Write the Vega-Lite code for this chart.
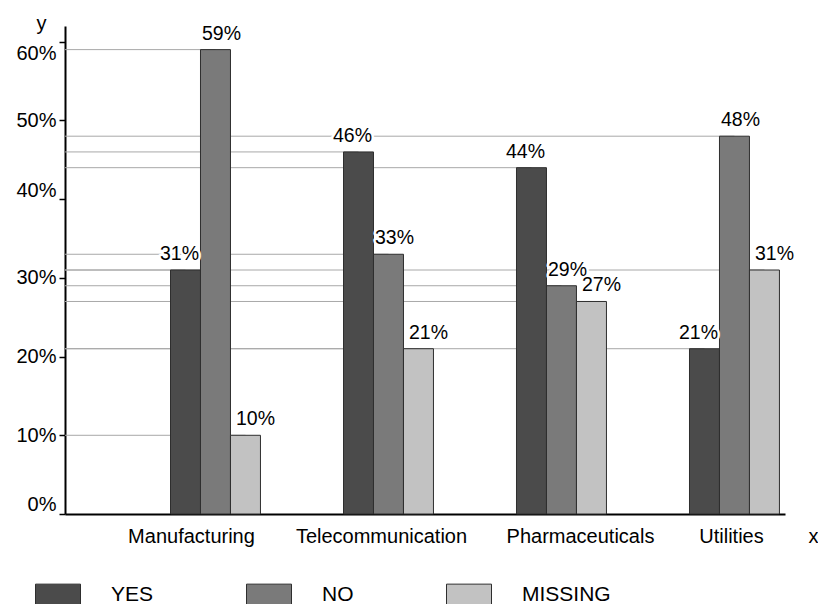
{
  "$schema": "https://vega.github.io/schema/vega-lite/v6.json",
  "width": 720,
  "height": 488,
  "autosize": {"type": "none"},
  "padding": {"left": 65, "top": 26, "right": 33, "bottom": 90},
  "background": "white",
  "config": {
    "view": {"stroke": null},
    "font": "Liberation Sans",
    "axis": {"labelFont": "Liberation Sans", "titleFont": "Liberation Sans"},
    "legend": {"labelFont": "Liberation Sans"}
  },
  "data": {
    "values": [
      {"sector": "Manufacturing", "answer": "YES", "share": 0.31},
      {"sector": "Manufacturing", "answer": "NO", "share": 0.59},
      {"sector": "Manufacturing", "answer": "MISSING", "share": 0.10},
      {"sector": "Telecommunication", "answer": "YES", "share": 0.46},
      {"sector": "Telecommunication", "answer": "NO", "share": 0.33},
      {"sector": "Telecommunication", "answer": "MISSING", "share": 0.21},
      {"sector": "Pharmaceuticals", "answer": "YES", "share": 0.44},
      {"sector": "Pharmaceuticals", "answer": "NO", "share": 0.29},
      {"sector": "Pharmaceuticals", "answer": "MISSING", "share": 0.27},
      {"sector": "Utilities", "answer": "YES", "share": 0.21},
      {"sector": "Utilities", "answer": "NO", "share": 0.48},
      {"sector": "Utilities", "answer": "MISSING", "share": 0.31}
    ]
  },
  "encoding": {
    "x": {
      "field": "sector",
      "type": "nominal",
      "sort": ["Manufacturing", "Telecommunication", "Pharmaceuticals", "Utilities"],
      "scale": {"paddingInner": 0.48, "paddingOuter": 0.321, "align": 0.95, "round": false},
      "title": "x",
      "axis": {
        "ticks": false,
        "tickSize": 0,
        "domainColor": "black",
        "domainWidth": 2,
        "labelAngle": 0,
        "labelFontSize": 20,
        "labelColor": "black",
        "labelBaseline": "alphabetic",
        "labelPadding": 28,
        "labelOffset": {"expr": "datum.value == 'Manufacturing' ? -24 : datum.value == 'Telecommunication' ? -7 : datum.value == 'Pharmaceuticals' ? 19 : -3"},
        "titleFontSize": 20,
        "titleFontWeight": "normal",
        "titleColor": "black",
        "titleAlign": "center",
        "titleBaseline": "alphabetic",
        "titleX": 748,
        "titleY": 28
      }
    },
    "xOffset": {
      "field": "answer",
      "type": "nominal",
      "sort": ["YES", "NO", "MISSING"],
      "scale": {"paddingInner": 0, "paddingOuter": 0}
    },
    "y": {
      "field": "share",
      "type": "quantitative",
      "scale": {"domain": [0, 0.62], "nice": false},
      "title": "y",
      "axis": {
        "values": [0, 0.1, 0.2, 0.3, 0.4, 0.5, 0.6],
        "format": ".0%",
        "grid": false,
        "domainColor": "black",
        "domainWidth": 2,
        "tickColor": "black",
        "tickWidth": 1.5,
        "tickSize": 6,
        "labelFontSize": 20,
        "labelColor": "black",
        "labelPadding": 3,
        "labelBaseline": "middle",
        "labelOffset": {"expr": "datum.value > 0.55 ? 12 : datum.value > 0.35 && datum.value < 0.45 ? -9 : datum.value < 0.05 ? -10 : 0"},
        "titleAngle": 0,
        "titleFontSize": 20,
        "titleFontWeight": "normal",
        "titleColor": "black",
        "titleAlign": "center",
        "titleBaseline": "alphabetic",
        "titleX": -24,
        "titleY": 3
      }
    }
  },
  "layer": [
    {
      "mark": {"type": "rule", "color": "#a8a8a8", "strokeWidth": 1},
      "encoding": {"x2": {"value": 0}}
    },
    {
      "mark": {"type": "bar", "stroke": "#2e2e2e", "strokeWidth": 1, "opacity": 1},
      "encoding": {
        "color": {
          "field": "answer",
          "type": "nominal",
          "sort": ["YES", "NO", "MISSING"],
          "scale": {"domain": ["YES", "NO", "MISSING"], "range": ["#4b4b4b", "#7a7a7a", "#c2c2c2"]},
          "legend": {
            "title": null,
            "orient": "none",
            "legendX": -30,
            "legendY": 546,
            "direction": "horizontal",
            "padding": 0,
            "symbolType": "M-1,-0.5H1V0.5H-1Z",
            "symbolSize": 2025,
            "symbolStrokeColor": "#2e2e2e",
            "symbolStrokeWidth": 1,
            "symbolOpacity": 1,
            "labelFontSize": 21,
            "labelColor": "black",
            "labelOffset": 30,
            "columnPadding": 90
          }
        }
      }
    },
    {
      "mark": {
        "type": "text",
        "fill": "white",
        "stroke": "white",
        "strokeWidth": 5,
        "strokeJoin": "round",
        "fontSize": 19.5,
        "baseline": "alphabetic",
        "dy": -10,
        "dx": {"expr": "datum.answer == 'YES' ? -6 : datum.answer == 'MISSING' ? 10 : 6"}
      },
      "encoding": {"text": {"field": "share", "type": "quantitative", "format": ".0%"}}
    },
    {
      "mark": {
        "type": "text",
        "fill": "black",
        "fontSize": 19.5,
        "baseline": "alphabetic",
        "dy": -10,
        "dx": {"expr": "datum.answer == 'YES' ? -6 : datum.answer == 'MISSING' ? 10 : 6"}
      },
      "encoding": {"text": {"field": "share", "type": "quantitative", "format": ".0%"}}
    }
  ]
}
